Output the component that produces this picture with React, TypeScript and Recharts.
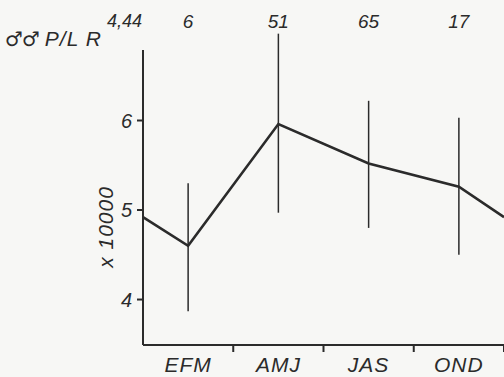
import { ComposedChart, Line, Scatter, ErrorBar, XAxis, YAxis, ReferenceLine } from 'recharts';

// seasons (quarters), mean P/LR x 10000 with the ends of the vertical range bars
const seasons = ['EFM', 'AMJ', 'JAS', 'OND'];
const sampleSizes = ['6', '51', '65', '17'];
const means = [4.6, 5.96, 5.52, 5.26];
const lows = [3.87, 4.97, 4.8, 4.5];
const highs = [5.3, 6.97, 6.22, 6.03];
// value where the cyclic line meets the left and right frame
const edgeValue = 4.92;

const ink = '#2b2b2b';
const font = '"Liberation Sans", Arial, sans-serif';
const PLOT_BOTTOM = 345;

const pointData = seasons.map((s, i) => ({
    x: i + 0.5,
    y: means[i],
    err: [means[i] - lows[i], highs[i] - means[i]],
}));

const lineData = [
    { x: 0, y: edgeValue },
    ...pointData.map((p) => ({ x: p.x, y: p.y })),
    { x: 4, y: edgeValue },
];

function BottomTick(props: any) {
    const { x, payload } = props;
    const v = payload.value;
    if (Number.isInteger(v)) {
        return <line x1={x} x2={x} y1={PLOT_BOTTOM} y2={PLOT_BOTTOM + 7} stroke={ink} strokeWidth={2} />;
    }
    return (
        <text x={x} y={PLOT_BOTTOM + 27} textAnchor="middle" fontSize={21} fontStyle="italic"
            fontFamily={font} fill={ink} letterSpacing={1}>
            {seasons[Math.floor(v)]}
        </text>
    );
}

export default function App() {
    return (
        <div style={{ position: 'absolute', left: 0, top: 0, width: 504, height: 377, background: '#f7f7f5', overflow: 'hidden' }}>
            <ComposedChart width={504} height={377} data={lineData}
                margin={{ top: 0, right: 0, bottom: 2, left: 0 }}>
                <XAxis xAxisId="top" orientation="top" type="number" dataKey="x" domain={[0, 4]}
                    ticks={[0.5, 1.5, 2.5, 3.5]} height={30} axisLine={false} tickLine={false}
                    tickSize={0} tickMargin={2} interval={0}
                    tickFormatter={(v: number) => sampleSizes[Math.floor(v)]}
                    tick={{ fontSize: 19, fontStyle: 'italic', fontFamily: font, fill: ink }} />
                <XAxis type="number" dataKey="x" domain={[0, 4]} ticks={[0.5, 1, 1.5, 2, 2.5, 3, 3.5, 4]}
                    interval={0} height={30} tickLine={false} tick={<BottomTick />}
                    axisLine={{ stroke: ink, strokeWidth: 2 }} />
                <YAxis type="number" domain={[3.492, 7.011]} ticks={[4, 5, 6]} width={143}
                    axisLine={false} tickSize={6} tickMargin={5} allowDataOverflow
                    tickLine={{ stroke: ink, strokeWidth: 2 }}
                    tick={{ fontSize: 20, fontStyle: 'italic', fontFamily: font, fill: ink }} />
                <ReferenceLine segment={[{ x: 0, y: 3.492 }, { x: 0, y: 6.788 }]}
                    stroke={ink} strokeWidth={2} ifOverflow="visible" />
                <Line type="linear" dataKey="y" data={lineData} stroke={ink} strokeWidth={2.6}
                    dot={false} isAnimationActive={false} />
                <Scatter data={pointData} dataKey="y" shape={() => <g />} isAnimationActive={false}>
                    <ErrorBar dataKey="err" direction="y" width={0} stroke={ink} strokeWidth={1.5}
                        isAnimationActive={false} />
                </Scatter>
            </ComposedChart>
            <svg width={504} height={377} style={{ position: 'absolute', left: 0, top: 0, pointerEvents: 'none' }}>
                <text x={5} y={46} fontSize={21} fontStyle="italic" fontFamily={font} fill={ink} letterSpacing={1}>
                    <tspan fontFamily='"DejaVu Sans", sans-serif' fontSize={20} letterSpacing={-1}>♂♂</tspan>
                    <tspan dx={6}>P/L R</tspan>
                </text>
                <text x={107} y={27} fontSize={18} fontStyle="italic" fontFamily={font} fill={ink}>
                    4,44
                </text>
                <text transform="translate(113,227) rotate(-90)" textAnchor="middle" fontSize={21}
                    fontStyle="italic" fontFamily={font} fill={ink} letterSpacing={1}>
                    x 10000
                </text>
            </svg>
        </div>
    );
}
